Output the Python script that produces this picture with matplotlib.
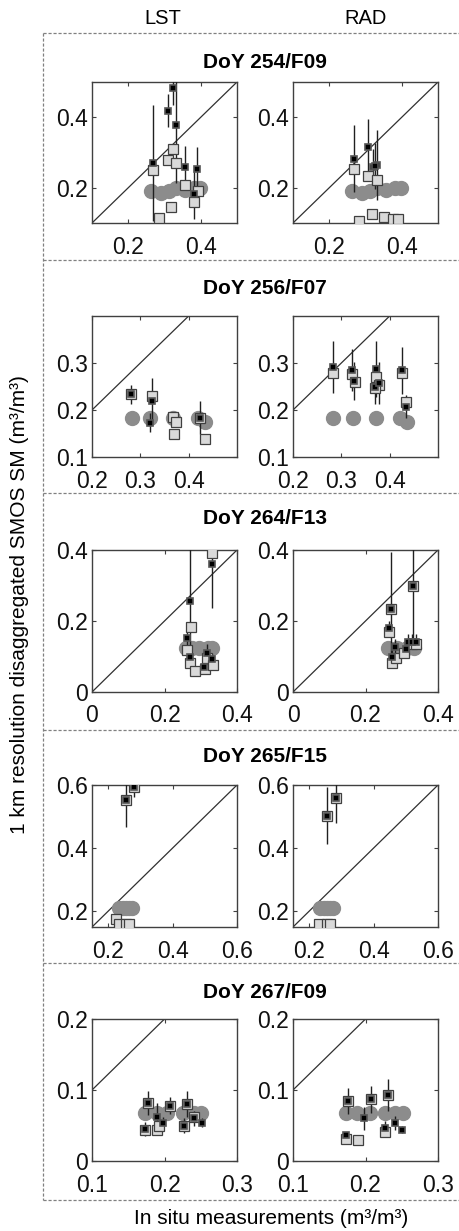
import matplotlib
matplotlib.use("Agg")
import matplotlib.pyplot as plt
from matplotlib.lines import Line2D
from matplotlib.ticker import FuncFormatter

plt.rcParams['font.family'] = ['Liberation Sans', 'DejaVu Sans']

# ---------------- data ----------------
col_titles = ["LST", "RAD"]
row_titles = ["DoY 254/F09", "DoY 256/F07", "DoY 264/F13", "DoY 265/F15", "DoY 267/F09"]
x_label = "In situ measurements (m³/m³)"
y_label = "1 km resolution disaggregated SMOS SM (m³/m³)"

# DoY 254
lst254_circ_x = [0.263, 0.289, 0.312, 0.331, 0.356, 0.380, 0.398]
lst254_circ_y = [0.19, 0.185, 0.19, 0.20, 0.195, 0.20, 0.20]
lst254_blk_x = [0.269, 0.310, 0.324, 0.333, 0.356, 0.381, 0.391]
lst254_blk_y = [0.271, 0.418, 0.484, 0.378, 0.258, 0.182, 0.252]
lst254_blk_e = [0.165, 0.047, 0.05, 0.165, 0.06, 0.07, 0.065]
lst254_lt_x = [0.269, 0.309, 0.323, 0.333, 0.356, 0.381, 0.393, 0.319, 0.284]
lst254_lt_y = [0.250, 0.279, 0.309, 0.269, 0.208, 0.160, 0.192, 0.146, 0.113]

rad254_circ_x = [0.263, 0.289, 0.312, 0.331, 0.356, 0.380, 0.398]
rad254_circ_y = [0.19, 0.185, 0.19, 0.20, 0.195, 0.20, 0.20]
rad254_blk_x = [0.268, 0.308, 0.320, 0.333, 0.327]
rad254_blk_y = [0.282, 0.315, 0.260, 0.264, 0.262]
rad254_blk_e = [0.095, 0.08, 0.05, 0.10, 0.065]
rad254_lt_x = [0.267, 0.308, 0.333, 0.282, 0.319, 0.352, 0.377, 0.391]
rad254_lt_y = [0.253, 0.234, 0.222, 0.106, 0.126, 0.118, 0.110, 0.110]

# DoY 256
lst256_circ_x = [0.283, 0.319, 0.367, 0.420, 0.433]
lst256_circ_y = [0.182, 0.182, 0.182, 0.182, 0.175]
lst256_blk_x = [0.281, 0.324, 0.319, 0.423]
lst256_blk_y = [0.233, 0.219, 0.173, 0.184]
lst256_blk_e = [0.02, 0.05, 0.02, 0.035]
lst256_lt_x = [0.281, 0.324, 0.367, 0.374, 0.369, 0.423, 0.433]
lst256_lt_y = [0.233, 0.230, 0.186, 0.174, 0.150, 0.184, 0.138]

rad256_circ_x = [0.282, 0.325, 0.372, 0.422, 0.435]
rad256_circ_y = [0.182, 0.182, 0.182, 0.182, 0.175]
rad256_blk_x = [0.283, 0.323, 0.327, 0.371, 0.370, 0.377, 0.425, 0.434]
rad256_blk_y = [0.291, 0.285, 0.262, 0.287, 0.248, 0.257, 0.285, 0.207]
rad256_blk_e = [0.055, 0.045, 0.04, 0.06, 0.035, 0.045, 0.05, 0.025]
rad256_lt_x = [0.282, 0.323, 0.328, 0.371, 0.377, 0.369, 0.425, 0.433]
rad256_lt_y = [0.278, 0.277, 0.260, 0.271, 0.253, 0.246, 0.279, 0.218]

# DoY 264
lst264_circ_x = [0.258, 0.277, 0.295, 0.319, 0.332]
lst264_circ_y = [0.125, 0.125, 0.125, 0.125, 0.125]
lst264_blk_x = [0.270, 0.330, 0.263, 0.269, 0.317, 0.309, 0.332]
lst264_blk_y = [0.256, 0.361, 0.151, 0.100, 0.111, 0.070, 0.092]
lst264_blk_e = [0.15, 0.125, 0.02, 0.02, 0.025, 0.01, 0.015]
lst264_lt_x = [0.330, 0.272, 0.263, 0.270, 0.283, 0.317, 0.311, 0.335]
lst264_lt_y = [0.391, 0.184, 0.118, 0.083, 0.059, 0.095, 0.064, 0.076]

rad264_circ_x = [0.263, 0.286, 0.314, 0.334]
rad264_circ_y = [0.125, 0.125, 0.125, 0.125]
rad264_blk_x = [0.270, 0.330, 0.265, 0.274, 0.281, 0.312, 0.316, 0.327, 0.338]
rad264_blk_y = [0.233, 0.300, 0.179, 0.098, 0.128, 0.121, 0.142, 0.142, 0.142]
rad264_blk_e = [0.16, 0.17, 0.02, 0.03, 0.02, 0.02, 0.02, 0.02, 0.02]
rad264_lt_x = [0.270, 0.330, 0.265, 0.272, 0.284, 0.307, 0.327, 0.338]
rad264_lt_y = [0.233, 0.300, 0.168, 0.083, 0.095, 0.111, 0.135, 0.135]

# DoY 265
lst265_circ_x = [0.235, 0.245, 0.255, 0.265, 0.275]
lst265_circ_y = [0.21, 0.21, 0.21, 0.21, 0.21]
lst265_blk_x = [0.256, 0.281]
lst265_blk_y = [0.551, 0.593]
lst265_blk_e = [0.085, 0.03]
lst265_lt_x = [0.256, 0.281, 0.225, 0.235, 0.255, 0.265]
lst265_lt_y = [0.551, 0.593, 0.175, 0.160, 0.160, 0.160]

rad265_circ_x = [0.235, 0.245, 0.255, 0.265, 0.275]
rad265_circ_y = [0.21, 0.21, 0.21, 0.21, 0.21]
rad265_blk_x = [0.254, 0.283]
rad265_blk_y = [0.503, 0.560]
rad265_blk_e = [0.09, 0.08]
rad265_lt_x = [0.254, 0.283, 0.230, 0.255, 0.265]
rad265_lt_y = [0.503, 0.560, 0.160, 0.160, 0.160]

# DoY 267
lst267_circ_x = [0.173, 0.189, 0.203, 0.226, 0.240, 0.251]
lst267_circ_y = [0.068, 0.068, 0.068, 0.068, 0.068, 0.068]
lst267_blk_x = [0.177, 0.189, 0.198, 0.208, 0.173, 0.231, 0.227, 0.241, 0.252]
lst267_blk_y = [0.082, 0.062, 0.054, 0.078, 0.045, 0.080, 0.050, 0.060, 0.054]
lst267_blk_e = [0.017, 0.02, 0.008, 0.012, 0.01, 0.018, 0.01, 0.01, 0.006]
lst267_lt_x = [0.173, 0.189, 0.193, 0.227, 0.241, 0.177, 0.208, 0.231]
lst267_lt_y = [0.043, 0.043, 0.049, 0.049, 0.062, 0.082, 0.078, 0.080]

rad267_circ_x = [0.173, 0.188, 0.206, 0.227, 0.241, 0.252]
rad267_circ_y = [0.068, 0.068, 0.068, 0.068, 0.068, 0.068]
rad267_blk_x = [0.176, 0.198, 0.207, 0.231, 0.227, 0.240, 0.251, 0.173]
rad267_blk_y = [0.0845, 0.060, 0.087, 0.093, 0.046, 0.054, 0.044, 0.037]
rad267_blk_e = [0.018, 0.016, 0.019, 0.022, 0.01, 0.01, 0.005, 0.0]
rad267_lt_x = [0.173, 0.189, 0.227, 0.176, 0.207, 0.231]
rad267_lt_y = [0.031, 0.030, 0.041, 0.0845, 0.087, 0.093]

row_xlim = [(0.1, 0.5), (0.2, 0.5), (0.0, 0.4), (0.15, 0.6), (0.1, 0.3)]
row_ylim = [(0.1, 0.5), (0.1, 0.4), (0.0, 0.4), (0.15, 0.6), (0.0, 0.2)]
row_xticks = [[0.2, 0.4], [0.2, 0.3, 0.4], [0, 0.2, 0.4], [0.2, 0.4, 0.6], [0.1, 0.2, 0.3]]
row_yticks = [[0.2, 0.4], [0.1, 0.2, 0.3], [0, 0.2, 0.4], [0.2, 0.4, 0.6], [0, 0.1, 0.2]]

panels = [
    [(lst254_circ_x, lst254_circ_y, lst254_blk_x, lst254_blk_y, lst254_blk_e, lst254_lt_x, lst254_lt_y),
     (rad254_circ_x, rad254_circ_y, rad254_blk_x, rad254_blk_y, rad254_blk_e, rad254_lt_x, rad254_lt_y)],
    [(lst256_circ_x, lst256_circ_y, lst256_blk_x, lst256_blk_y, lst256_blk_e, lst256_lt_x, lst256_lt_y),
     (rad256_circ_x, rad256_circ_y, rad256_blk_x, rad256_blk_y, rad256_blk_e, rad256_lt_x, rad256_lt_y)],
    [(lst264_circ_x, lst264_circ_y, lst264_blk_x, lst264_blk_y, lst264_blk_e, lst264_lt_x, lst264_lt_y),
     (rad264_circ_x, rad264_circ_y, rad264_blk_x, rad264_blk_y, rad264_blk_e, rad264_lt_x, rad264_lt_y)],
    [(lst265_circ_x, lst265_circ_y, lst265_blk_x, lst265_blk_y, lst265_blk_e, lst265_lt_x, lst265_lt_y),
     (rad265_circ_x, rad265_circ_y, rad265_blk_x, rad265_blk_y, rad265_blk_e, rad265_lt_x, rad265_lt_y)],
    [(lst267_circ_x, lst267_circ_y, lst267_blk_x, lst267_blk_y, lst267_blk_e, lst267_lt_x, lst267_lt_y),
     (rad267_circ_x, rad267_circ_y, rad267_blk_x, rad267_blk_y, rad267_blk_e, rad267_lt_x, rad267_lt_y)],
]

# ---------------- layout (pixels) ----------------
W, H = 459, 1231
fig = plt.figure(figsize=(W / 100, H / 100), dpi=100)

col_left = [92, 293]
ax_w = 145
row_top = [82, 316, 550, 785, 1019]
row_bot = [223, 457, 692, 927, 1161]
title_y = [63, 289, 518, 757, 992]
sep_y = [260, 493, 730, 963]


def fx(px):
    return px / W


def fy(py):
    return 1 - py / H


fmt = FuncFormatter(lambda v, p: '%g' % v)
edge_col = '#404040'

for r in range(5):
    for c in range(2):
        ax = fig.add_axes([fx(col_left[c]), fy(row_bot[r]), ax_w / W, (row_bot[r] - row_top[r]) / H])
        cx, cy, bx, by, be, lx, ly = panels[r][c]
        ax.set_xlim(*row_xlim[r])
        ax.set_ylim(*row_ylim[r])
        ax.axline((0, 0), slope=1, color='#303030', lw=0.9, zorder=1)
        ax.plot(cx, cy, 'o', ms=10, color='#8c8c8c', mec='#8c8c8c', zorder=2)
        ax.errorbar(bx, by, yerr=be, fmt='none', ecolor='#202020', elinewidth=1.0, capsize=0, zorder=3)
        ax.plot(lx, ly, 's', ms=6.5, mfc='#d9d9d9', mec='#404040', mew=0.9, zorder=4)
        ax.plot(bx, by, 's', ms=5, mfc='black', mec='#555555', mew=1.2, zorder=5)
        ax.set_xticks(row_xticks[r])
        ax.set_yticks(row_yticks[r])
        ax.xaxis.set_major_formatter(fmt)
        ax.yaxis.set_major_formatter(fmt)
        ax.tick_params(direction='in', length=3, width=0.8, color=edge_col, labelsize=16.5,
                       top=True, right=True, pad=3, labelcolor='#111111')
        ax.tick_params(axis='x', pad=9)
        for s in ax.spines.values():
            s.set_color(edge_col)
            s.set_linewidth(1.0)
    fig.text(fx(265), fy(title_y[r]), row_titles[r], ha='center', va='center',
             fontsize=15, fontweight='bold')

fig.text(fx(163), fy(18), col_titles[0], ha='center', va='center', fontsize=14.5)
fig.text(fx(366), fy(18), col_titles[1], ha='center', va='center', fontsize=14.5)
fig.text(fx(271), fy(1219), x_label, ha='center', va='center', fontsize=15)
fig.text(fx(20), fy(605), y_label, ha='center', va='center', rotation=90, fontsize=15)

# dashed frame and separators
dash_kw = dict(color='#808080', lw=0.9, linestyle=(0, (2.5, 1.5)), transform=fig.transFigure)
fig.add_artist(Line2D([fx(43), fx(43)], [fy(33), fy(1200)], **dash_kw))
fig.add_artist(Line2D([fx(43), 1.0], [fy(33), fy(33)], **dash_kw))
fig.add_artist(Line2D([fx(43), 1.0], [fy(1200), fy(1200)], **dash_kw))
for s in sep_y:
    fig.add_artist(Line2D([fx(43), 1.0], [fy(s), fy(s)], **dash_kw))

fig.savefig('out.png', dpi=100)
